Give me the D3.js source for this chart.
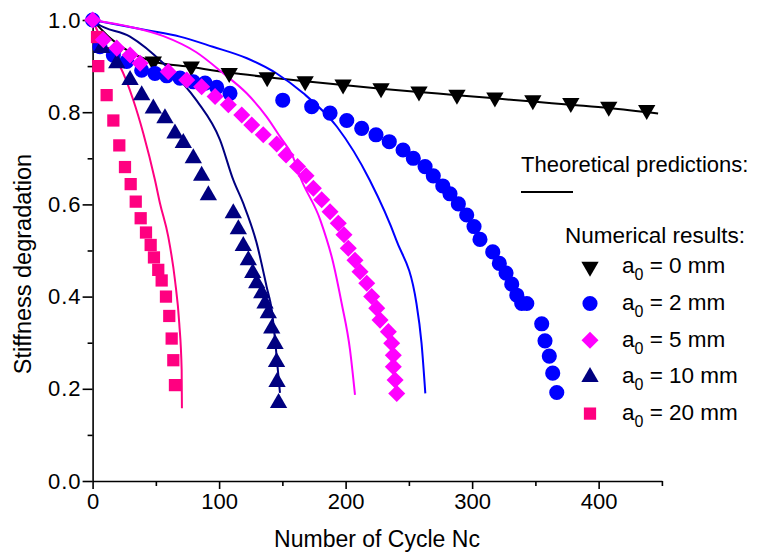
<!DOCTYPE html>
<html>
<head>
<meta charset="utf-8">
<script src="https://cdn.jsdelivr.net/npm/d3@7"></script>
<style>
  html, body { margin: 0; padding: 0; background: #fff; }
  svg { display: block; font-family: "Liberation Sans", Arial, Helvetica, sans-serif; }
</style>
</head>
<body>
<svg id="chart" width="760" height="554"></svg>
<script>
// ---- Data ----
const xTicks = [0, 100, 200, 300, 400];
const xMinorTicks = [50, 150, 250, 350, 450];
const yTicks = [0.0, 0.2, 0.4, 0.6, 0.8, 1.0];
const yMinorTicks = [0.1, 0.3, 0.5, 0.7, 0.9];

const seriesNames = ["0 mm", "2 mm", "5 mm", "10 mm", "20 mm"];

// Numerical results (markers)
const num0 = [[18,0.930],[48,0.910],[78,0.899],[108,0.885],[138,0.876],[168,0.867],[198,0.860],[228,0.852],[258,0.845],[288,0.838],[318,0.832],[348,0.826],[378,0.820],[408,0.812],[438,0.805]];
const num2 = [[0,1.0],[5.8,0.942],[16.4,0.924],[27,0.910],[38.8,0.891],[49.3,0.884],[58.6,0.879],[69.1,0.874],[79.6,0.866],[88.9,0.863],[98.1,0.854],[108.6,0.841],
  [150.3,0.826],[173.2,0.812],[187.7,0.798],[200.9,0.782],[212.7,0.765],[224,0.751],[234.5,0.736],[245.4,0.718],[253.5,0.700],[262.8,0.682],[269.3,0.662],[276.8,0.640],[282.5,0.623],[289.1,0.601],[295.7,0.577],[301.5,0.552],[306.2,0.524],[316.3,0.497],[321.5,0.472],[326.8,0.451],[331.3,0.427],[335.3,0.403],[339.2,0.385],[343.2,0.385],[355,0.341],[357.6,0.304],[361,0.271],[363.7,0.234],[366.9,0.192]];
const num5 = [[0,1.0],[8.5,0.957],[19.1,0.939],[29.6,0.924],[37.5,0.906],[59.8,0.888],[74.4,0.870],[86.2,0.855],[96.8,0.834],[107.3,0.816],[117.9,0.794],[125.8,0.772],[134.9,0.751],[145.5,0.731],[152.9,0.707],[162,0.682],[168.7,0.662],[174.5,0.635],[181.1,0.610],[187.7,0.584],[194.2,0.559],[198.7,0.534],[202.1,0.505],[207.4,0.479],[211.4,0.454],[216.7,0.429],[220.6,0.400],[224.6,0.375],[227.2,0.349],[233.8,0.324],[236.4,0.299],[237.7,0.273],[237.7,0.248],[239.1,0.219],[240.4,0.190]];
const num10 = [[7.2,0.939],[19.1,0.906],[29.6,0.870],[38.8,0.837],[48,0.808],[57.2,0.787],[65.1,0.754],[71.7,0.733],[79.6,0.700],[86.2,0.662],[91.5,0.620],[111.2,0.581],[115.2,0.546],[119.1,0.510],[123.1,0.479],[126.6,0.451],[129.7,0.429],[133.7,0.407],[136.3,0.385],[138.9,0.364],[141.6,0.331],[144.2,0.297],[145.4,0.258],[145.8,0.215],[147,0.169]];
const num20 = [[3.5,0.963],[4.5,0.900],[11.1,0.837],[16.4,0.782],[21.1,0.728],[25.6,0.681],[30.1,0.644],[34.1,0.606],[38,0.570],[42.2,0.539],[45.9,0.512],[48.5,0.485],[51.9,0.458],[54.6,0.435],[58,0.400],[60.6,0.358],[62.5,0.309],[63.8,0.262],[65.1,0.208]];

// Theoretical predictions (lines)
const theo0 = [[0,1.0],[5,0.985],[15,0.958],[30,0.930],[48,0.910],[78,0.898],[108,0.886],[138,0.876],[168,0.867],[198,0.859],[228,0.851],[258,0.844],[288,0.837],[318,0.830],[348,0.823],[378,0.816],[408,0.809],[447,0.797]];
const theo2 = [[0,1.0],[43,0.978],[69,0.964],[95,0.942],[122,0.917],[145.5,0.884],[166.6,0.841],[193,0.769],[219,0.653],[240,0.523],[256,0.385],[260,0.299],[263,0.190]];
const theo5 = [[0,1.0],[30,0.985],[56,0.965],[82,0.930],[103,0.885],[121.8,0.841],[137.6,0.790],[148.1,0.747],[158.4,0.703],[164,0.660],[180,0.566],[190.3,0.472],[196.9,0.385],[203.5,0.284],[207.4,0.187]];
const theo10 = [[0,1.0],[3.2,0.993],[29.6,0.964],[55.9,0.906],[82.3,0.825],[100.7,0.740],[111.2,0.653],[119.1,0.602],[129.7,0.516],[137.6,0.421],[141.6,0.371],[145,0.284],[148.1,0.191]];
const theo20 = [[0,1.0],[5.8,0.965],[13.8,0.930],[21.7,0.899],[32.2,0.826],[40.1,0.754],[49.3,0.653],[53.3,0.602],[59.8,0.530],[65.1,0.436],[68.5,0.342],[70.4,0.241],[70.6,0.158]];

const colors = ["#000000", "#0000ff", "#ff00ff", "#000080", "#ff0080"];

// ---- Chart ----
const svg = d3.select("#chart");
const x = d3.scaleLinear().domain([0, 450]).range([92.6, 661.9]);
const y = d3.scaleLinear().domain([0, 1]).range([481, 20]);

// axes
const gx = svg.append("g").attr("transform", `translate(0,${y(0)})`)
  .call(d3.axisBottom(x).tickValues(xTicks).tickFormat(d3.format("d")).tickSize(8).tickSizeOuter(0).tickPadding(4));
const gxm = svg.append("g").attr("transform", `translate(0,${y(0)})`)
  .call(d3.axisBottom(x).tickValues(xMinorTicks).tickFormat("").tickSize(5).tickSizeOuter(0));
gxm.select(".domain").remove();
const gy = svg.append("g").attr("transform", `translate(${x(0)},0)`)
  .call(d3.axisLeft(y).tickValues(yTicks).tickFormat(d3.format(".1f")).tickSize(10).tickSizeOuter(0).tickPadding(1));
const gym = svg.append("g").attr("transform", `translate(${x(0)},0)`)
  .call(d3.axisLeft(y).tickValues(yMinorTicks).tickFormat("").tickSize(5).tickSizeOuter(0));
gym.select(".domain").remove();

svg.selectAll(".domain, .tick line").attr("stroke", "#000").attr("stroke-width", 1.6);
svg.selectAll(".tick text").attr("fill", "#000").style("font-size", "22px")
  .style("font-family", '"Liberation Sans", Arial, sans-serif');
gy.selectAll(".tick text").style("letter-spacing", "1px");

// axis titles
svg.append("text").attr("x", 377).attr("y", 547).attr("text-anchor", "middle")
  .style("font-size", "23px").text("Number of Cycle Nc");
svg.append("text").attr("transform", "translate(31,264) rotate(-90)").attr("text-anchor", "middle")
  .style("font-size", "23.5px").text("Stiffness degradation");

// theory lines
const line = d3.line().x(d => x(d[0])).y(d => y(d[1])).curve(d3.curveMonotoneX);
const theo = [theo0, theo2, theo5, theo10, theo20];
theo.forEach((t, i) => {
  svg.append("path").datum(t).attr("d", line).attr("fill", "none")
    .attr("stroke", colors[i]).attr("stroke-width", 2);
});

// markers
const symTri = d3.symbol().type(d3.symbolTriangle).size(130);
const symCirc = d3.symbol().type(d3.symbolCircle).size(180);
const symSq = d3.symbol().type(d3.symbolSquare).size(150);
const symDia = d3.symbol().type(d3.symbolSquare).size(145);
const markerDefs = [
  {data: num0, path: symTri(), rot: 180, color: colors[0]},
  {data: num2, path: symCirc(), rot: 0, color: colors[1]},
  {data: num10, path: symTri(), rot: 0, color: colors[3]},
  {data: num20, path: symSq(), rot: 0, color: colors[4]},
  {data: num5, path: symDia(), rot: 45, color: colors[2]}
];
markerDefs.forEach(m => {
  svg.append("g").selectAll("path").data(m.data).join("path")
    .attr("d", m.path)
    .attr("transform", d => `translate(${x(d[0])},${y(d[1])}) rotate(${m.rot})`)
    .attr("fill", m.color);
});

// legend
svg.append("text").attr("x", 521).attr("y", 172).style("font-size", "22px").text("Theoretical predictions:");
svg.append("line").attr("x1", 521).attr("x2", 573).attr("y1", 192).attr("y2", 192)
  .attr("stroke", "#000").attr("stroke-width", 2);
svg.append("text").attr("x", 565).attr("y", 243).style("font-size", "22.5px").text("Numerical results:");

const legendSyms = [
  {path: symTri(), rot: 180},
  {path: symCirc(), rot: 0},
  {path: symDia(), rot: 45},
  {path: symTri(), rot: 0},
  {path: symSq(), rot: 0}
];
const legendColors = [colors[0], colors[1], colors[2], colors[3], colors[4]];
seriesNames.forEach((name, i) => {
  const base = 273.3 + i * 36.7;
  svg.append("path").attr("d", legendSyms[i].path)
    .attr("transform", `translate(590,${base - 6.5}) rotate(${legendSyms[i].rot})`).attr("fill", legendColors[i]);
  const t = svg.append("text").attr("x", 622).attr("y", base).style("font-size", "22.5px");
  t.append("tspan").text("a");
  t.append("tspan").attr("dy", 7).style("font-size", "16px").text("0");
  t.append("tspan").attr("dy", -7).text(" = " + name);
});
</script>
</body>
</html>
